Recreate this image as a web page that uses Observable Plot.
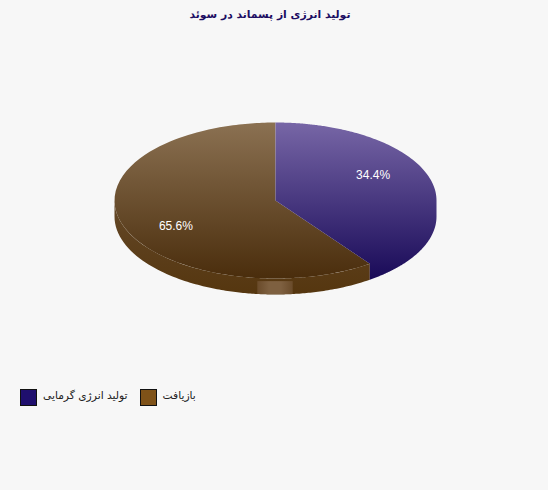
<!DOCTYPE html>
<html lang="fa">
<head>
<meta charset="utf-8">
<script src="https://cdn.jsdelivr.net/npm/d3@7"></script>
<script src="https://cdn.jsdelivr.net/npm/@observablehq/plot@0.6"></script>
<style>
html,body{margin:0;padding:0;background:#f7f7f7;width:548px;height:490px;overflow:hidden}
#title{height:30px;text-align:center;font:bold 10.8px/30px "DejaVu Sans",sans-serif;color:#1c0d62;width:540px}
#chart{height:340px}
#chart svg{display:block;background:#f7f7f7}
#legend{display:flex;align-items:center;height:30px;margin-top:12px;padding-left:20px;font:10.7px "DejaVu Sans",sans-serif;color:#222}
.sw{width:15px;height:15px;border:1px solid #111;box-sizing:content-box;margin-right:6px}
.lb{margin-right:12px;white-space:nowrap;position:relative;top:-2px}
</style>
</head>
<body>
<div id="title" dir="rtl">تولید انرژی از پسماند در سوئد</div>
<div id="chart"></div>
<div id="legend"></div>
<script>
const categories = ["تولید انرژی گرمایی", "بازیافت"];
const shares = [34.4, 65.6];
const labels = ["34.4%", "65.6%"];
const swatches = ["#1f0f6e", "#7f5218"];

// Vertical shading of each part of the pie: [top, bottom]
const blueShade = ["#7766a6", "#190a58"];
const brownShade = ["#8b7152", "#4a2d0c"];
const sideShade = ["#644828", "#55360f"];
const tabShade = ["#6a4b2a", "#7e6040", "#7e6040", "#6a4b2a"];

// Pie shape in pixels
const W = 548, H = 340, cx = 275, cy = 170, rx = 161, ry = 78, depthPx = 16;
const depth = depthPx / ry;
const labelRadius = 0.694;
const tabHalf = 0.11;

// The pie's units: x in rx, y in ry. Slices are cut along the true on-screen angle.
const rad = p => p / 100 * 2 * Math.PI;
const polar = (a, dy = 0) => {
  const s = Math.sin(a), c = Math.cos(a);
  const k = 1 / Math.hypot(s / rx, c / ry);
  return {x: s * k / rx, y: -c * k / ry + dy};
};
const arc = (a0, a1, dy = 0, n = 120) => d3.range(n + 1).map(i => polar(a0 + (a1 - a0) * i / n, dy));

const aEnd = rad(shares[0]);
const aFull = rad(shares[0] + shares[1]);
const centre = {x: 0, y: 0};

const bluePoly = [
  centre,
  ...arc(0, Math.PI / 2),
  ...arc(Math.PI / 2, aEnd, depth),
  polar(aEnd)
];
const brownTop = [centre, ...arc(aEnd, aFull)];
const brownSide = [
  ...arc(aEnd, 1.5 * Math.PI),
  ...arc(1.5 * Math.PI, aEnd, depth)
];
const tab = [{x1: -tabHalf, x2: tabHalf, y1: polar(Math.PI).y + 0.04, y2: polar(Math.PI, depth).y}];

// Labels sit at mid-slice along the ellipse parameter
let acc = 0;
const labelData = shares.map((v, i) => {
  const m = rad(acc + v / 2);
  acc += v;
  return {x: Math.sin(m) * labelRadius, y: -Math.cos(m) * labelRadius, t: labels[i]};
});

const svg = Plot.plot({
  width: W, height: H,
  margin: 0,
  style: {background: "#f7f7f7"},
  x: {domain: [-cx / rx, (W - cx) / rx], range: [0, W], axis: null},
  y: {domain: [-cy / ry, (H - cy) / ry], range: [0, H], axis: null},
  marks: [
    Plot.line(brownSide, {x: "x", y: "y", fill: "url(#gSide)", stroke: "none"}),
    Plot.line(brownTop, {x: "x", y: "y", fill: "url(#gBrown)", stroke: "none"}),
    Plot.line(bluePoly, {x: "x", y: "y", fill: "url(#gBlue)", stroke: "none"}),
    Plot.rect(tab, {x1: "x1", x2: "x2", y1: "y1", y2: "y2", fill: "url(#gTab)"}),
    Plot.text(labelData, {x: "x", y: "y", text: "t", dx: -1, fill: "white", fontSize: 12, fontFamily: "Liberation Sans"})
  ]
});

const defs = d3.select(svg).insert("defs", ":first-child");
const grad = (id, stops, horizontal) => {
  const g = defs.append("linearGradient").attr("id", id)
    .attr("x1", 0).attr("y1", 0)
    .attr("x2", horizontal ? 1 : 0).attr("y2", horizontal ? 0 : 1);
  stops.forEach((c, i) => g.append("stop").attr("offset", i / (stops.length - 1)).attr("stop-color", c));
};
grad("gBlue", blueShade);
grad("gBrown", brownShade);
grad("gSide", sideShade);
grad("gTab", tabShade, true);

document.getElementById("chart").append(svg);

const legend = d3.select("#legend");
categories.forEach((c, i) => {
  legend.append("div").attr("class", "sw").style("background", swatches[i]);
  legend.append("div").attr("class", "lb").attr("dir", "rtl").text(c);
});
</script>
</body>
</html>
